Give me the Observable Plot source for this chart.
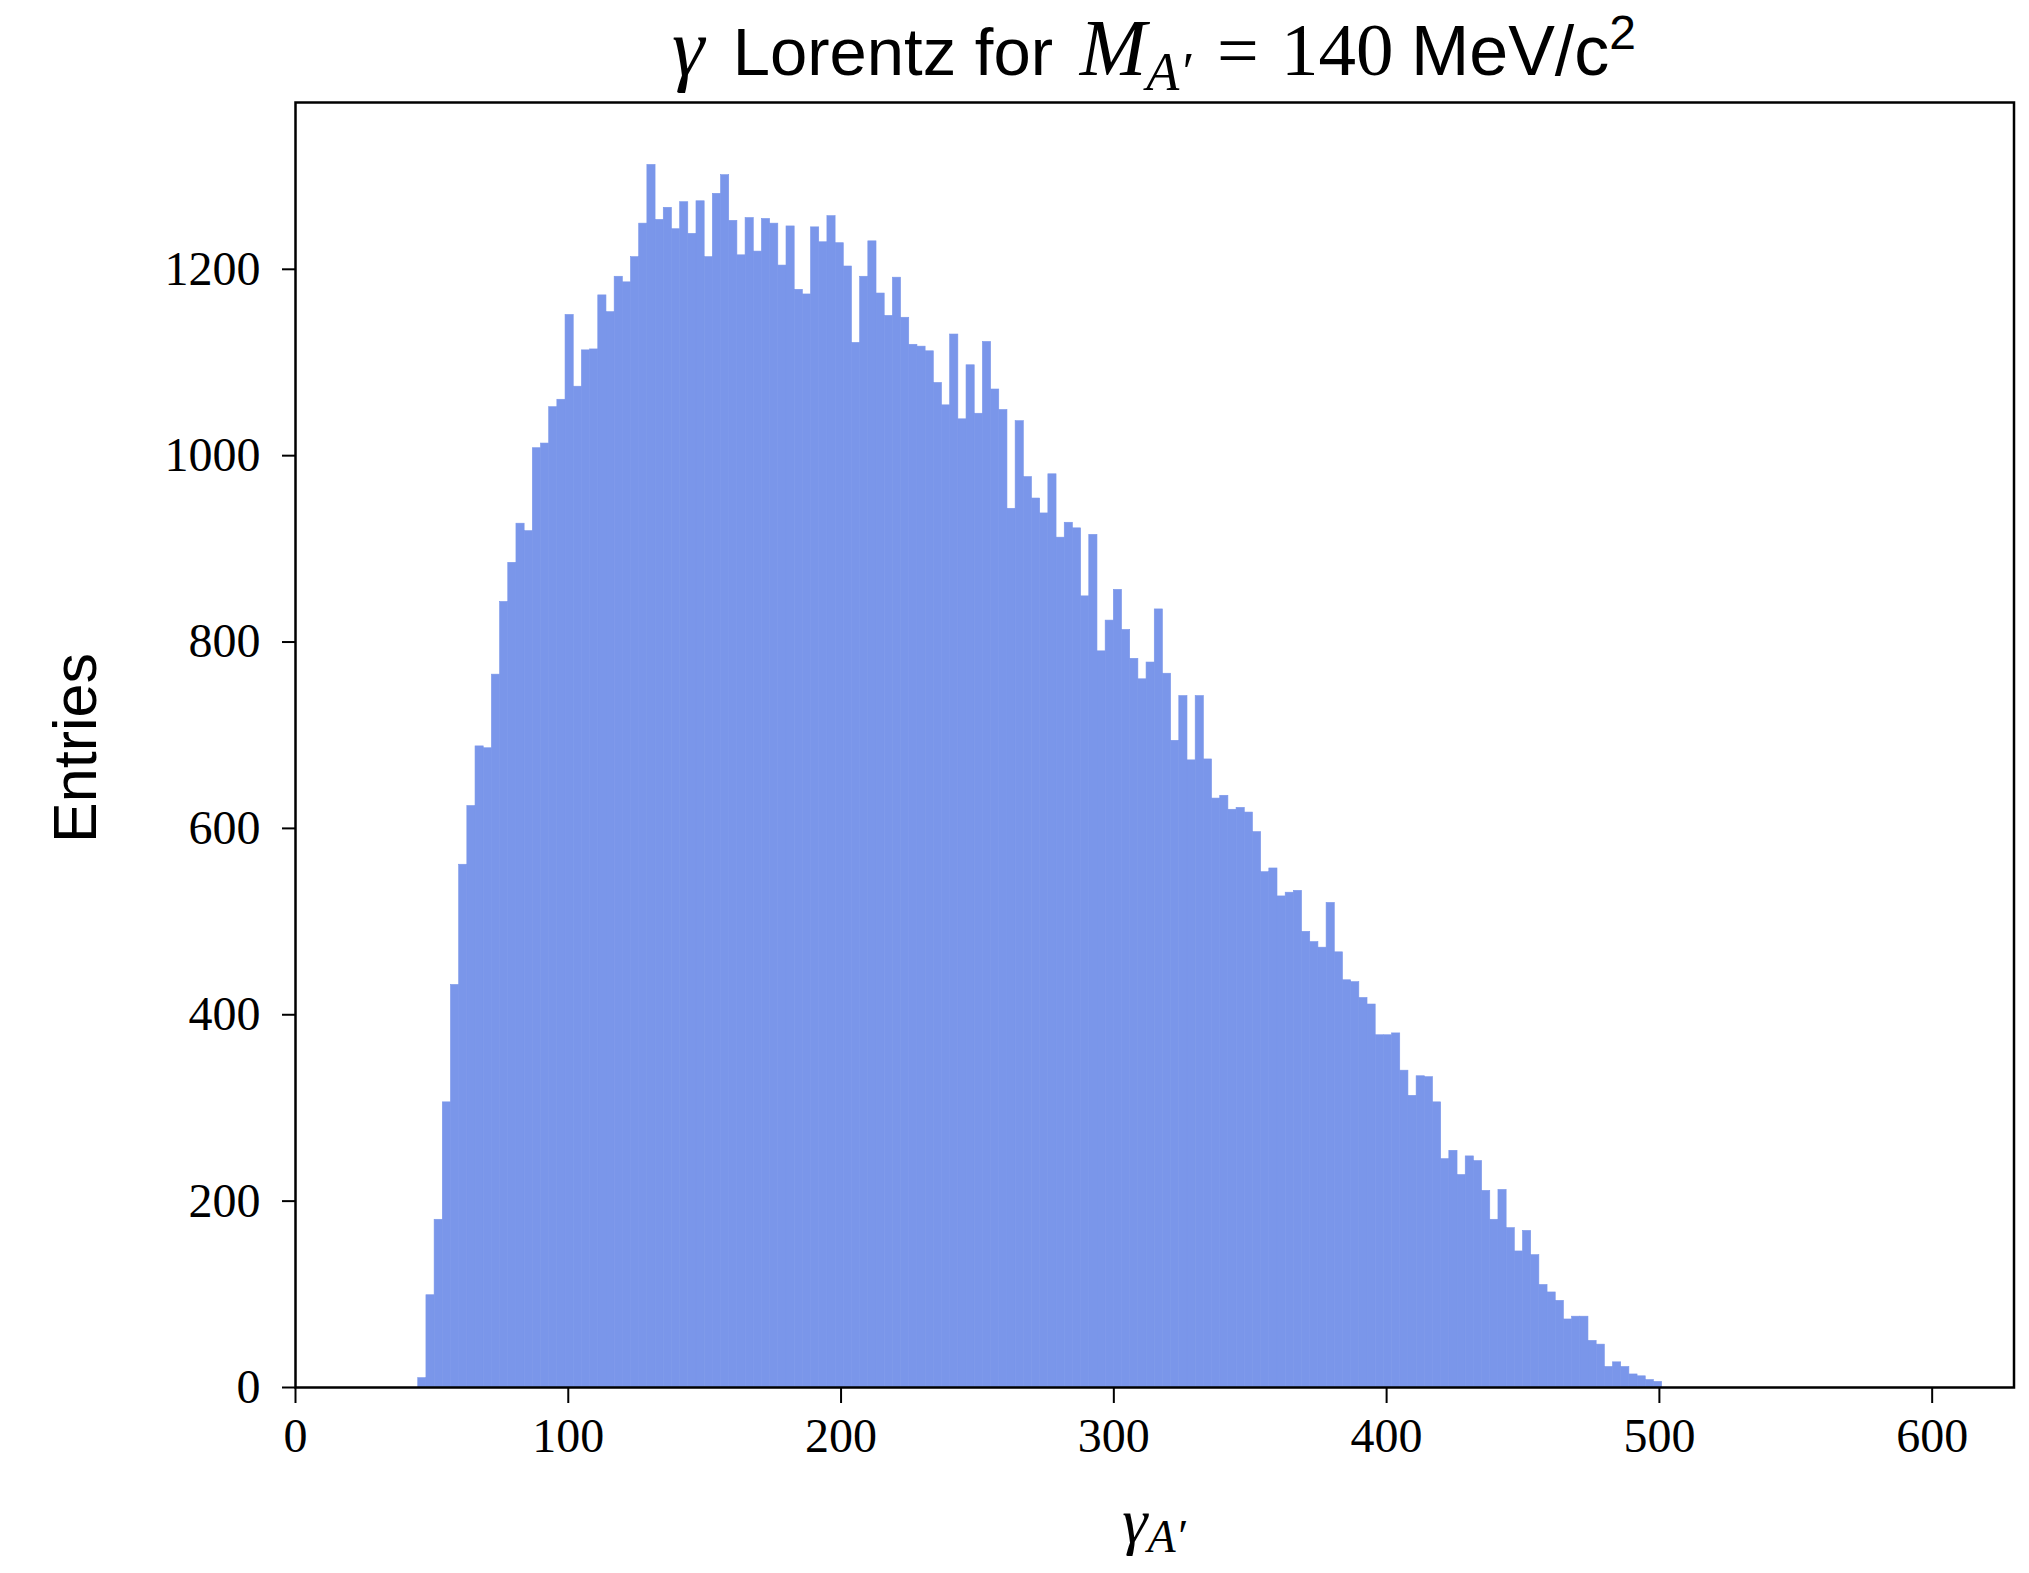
<!DOCTYPE html>
<html>
<head>
<meta charset="utf-8">
<script src="https://cdn.jsdelivr.net/npm/d3@7"></script>
<script src="https://cdn.jsdelivr.net/npm/@observablehq/plot@0.6"></script>
<style>
  html, body { margin: 0; padding: 0; background: #fff; }
  #page { width: 2029px; height: 1573px; overflow: hidden; background: #fff; }
  #title {
    height: 90px; box-sizing: border-box; width: 2029px;
    padding-left: 279px; padding-top: 6px;
    text-align: center; white-space: nowrap;
    font-family: "Liberation Sans", sans-serif; font-size: 67px; line-height: 83px; color: #000;
  }
  #title .g { font-family: "Liberation Serif", serif; font-style: italic; font-size: 82px; margin-right: 0.12em; }
  #title .m { font-family: "Liberation Serif", serif; font-style: italic; font-size: 80px; margin-left: 0.1em; }
  #title .sub { font-family: "Liberation Serif", serif; font-style: italic; font-size: 54px; vertical-align: -0.28em; line-height: 0; }
  #title .eq { font-family: "Liberation Serif", serif; font-size: 74px; margin: 0 0.3em 0 0.35em; }
  #title .r { font-family: "Liberation Serif", serif; font-size: 75px; }
  #title .u { font-size: 70px; margin-left: 0.25em; }
  #title sup { font-size: 48px; vertical-align: 0.55em; line-height: 0; }
  #chart svg { display: block; }
</style>
</head>
<body>
<div id="page">
  <div id="title"><span class="g">γ</span> Lorentz for <span class="m">M</span><span class="sub">A′</span><span class="eq">=</span><span class="r">140</span><span class="u">MeV/c<sup>2</sup></span></div>
  <div id="chart"></div>
</div>
<script>
// Histogram bin left edges (γ_A'), bin width 3
const binWidth = 3;
const binLo = [45,48,51,54,57,60,63,66,69,72,75,78,81,84,87,90,93,96,99,102,105,108,111,114,117,120,123,126,129,132,135,138,141,144,147,150,153,156,159,162,165,168,171,174,177,180,183,186,189,192,195,198,201,204,207,210,213,216,219,222,225,228,231,234,237,240,243,246,249,252,255,258,261,264,267,270,273,276,279,282,285,288,291,294,297,300,303,306,309,312,315,318,321,324,327,330,333,336,339,342,345,348,351,354,357,360,363,366,369,372,375,378,381,384,387,390,393,396,399,402,405,408,411,414,417,420,423,426,429,432,435,438,441,444,447,450,453,456,459,462,465,468,471,474,477,480,483,486,489,492,495,498];
// Entries per bin
const counts = [10,99,180,306,432,561,624,688,686,765,843,885,927,919,1008,1013,1052,1060,1151,1074,1113,1114,1172,1154,1192,1186,1213,1249,1312,1253,1266,1243,1272,1238,1273,1213,1281,1301,1252,1215,1255,1219,1254,1249,1204,1246,1178,1173,1245,1229,1257,1228,1203,1121,1192,1230,1174,1150,1191,1148,1119,1117,1112,1078,1054,1130,1039,1097,1045,1122,1071,1049,943,1037,977,954,938,980,912,928,922,849,915,790,823,856,813,782,760,778,835,766,694,742,673,742,674,632,635,620,622,617,596,553,557,527,531,533,489,478,472,520,467,437,435,418,411,378,378,380,340,313,334,333,306,245,254,228,248,243,211,180,212,171,146,168,142,110,102,93,73,76,76,50,46,22,27,22,14,12,8,6];
const xTicks = [0,100,200,300,400,500,600];
const yTicks = [0,200,400,600,800,1000,1200];
const xDomain = [0, 630];
const yDomain = [0, 1379];

const bins = binLo.map((lo, i) => ({lo, hi: lo + binWidth, count: counts[i]}));
const barColor = "#7a96ea";

const chart = Plot.plot({
  width: 2029,
  height: 1483,
  marginLeft: 295,
  marginRight: 15.5,
  marginTop: 12,
  marginBottom: 186,
  style: {fontFamily: "'Liberation Serif', serif", fontSize: "48px", background: "white", color: "black", overflow: "visible"},
  x: {domain: xDomain, label: null},
  y: {domain: yDomain, label: null},
  marks: [
    Plot.rectY(bins, {x1: "lo", x2: "hi", y: "count", fill: barColor, stroke: barColor, strokeWidth: 0.6}),
    Plot.axisX({ticks: xTicks, tickSize: 16, tickPadding: 14, fontSize: 48, strokeWidth: 2, tickFormat: d => String(d), label: null}),
    Plot.axisY({ticks: yTicks, tickSize: 13, tickPadding: 22, fontSize: 48, strokeWidth: 2, tickFormat: d => String(d), label: null}),
    Plot.frame({stroke: "black", strokeWidth: 2.5})
  ]
});

const svg = d3.select(chart);
// y-axis label
svg.append("text")
  .attr("transform", "translate(75,658) rotate(-90)")
  .attr("text-anchor", "middle")
  .attr("dy", "0.35em")
  .style("font-family", "'Liberation Sans', sans-serif")
  .style("font-size", "61px")
  .attr("fill", "black")
  .text("Entries");
// x-axis label γ_A'
const xl = svg.append("text")
  .attr("x", 1154)
  .attr("y", 1452)
  .attr("text-anchor", "middle")
  .style("font-family", "'Liberation Serif', serif")
  .style("font-style", "italic")
  .style("font-size", "64px")
  .attr("fill", "black");
xl.append("tspan").text("γ");
xl.append("tspan").attr("dy", "0.22em").style("font-size", "46px").text("A′");

document.getElementById("chart").appendChild(chart);
</script>
</body>
</html>
